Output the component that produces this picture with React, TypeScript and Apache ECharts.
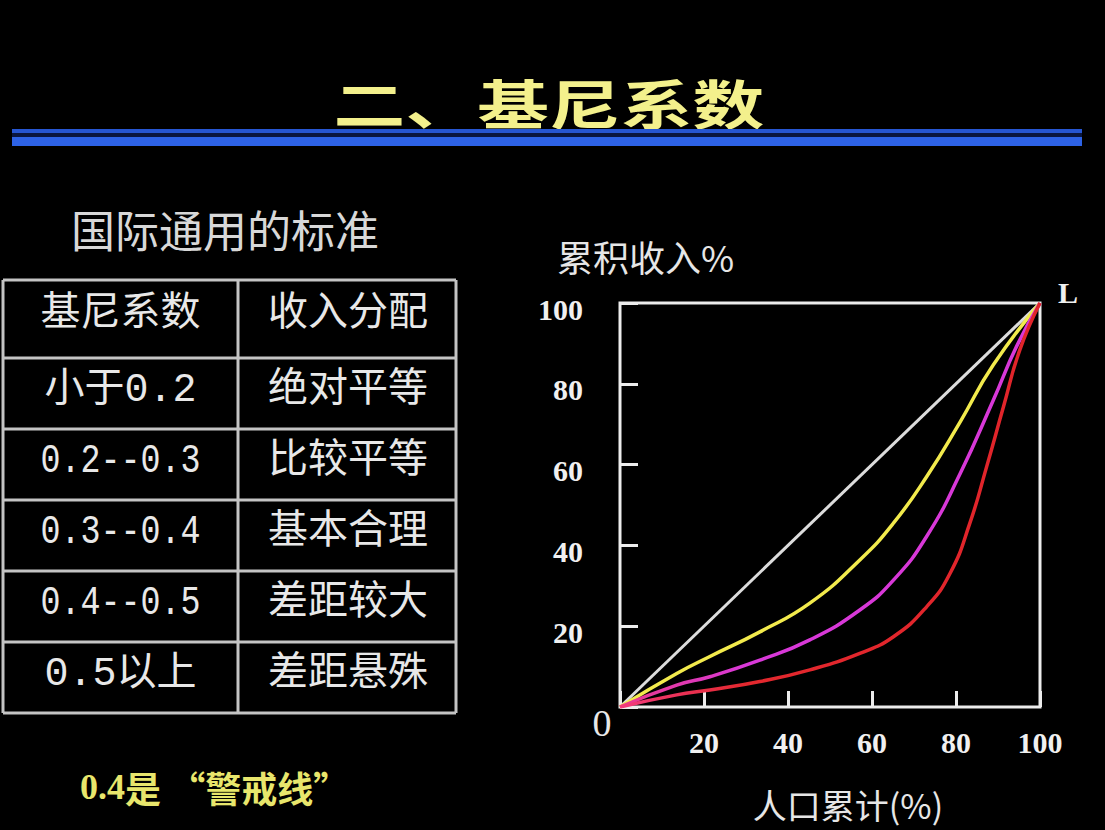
import React, { useEffect, useRef } from "react";
import * as echarts from "echarts";

// ---- data ----
const titleText = "二、基尼系数";
const subTitle = "国际通用的标准";
const noteLead = "0.4";
const noteRest = "是 “警戒线”";
const yAxisName = "累积收入%";
const xAxisName = "人口累计(%)";
const cornerLabel = "L";
const originLabel = "0";

const giniRanges = ["基尼系数", "小于0.2", "0.2--0.3", "0.3--0.4", "0.4--0.5", "0.5以上"];
const incomeDistribution = ["收入分配", "绝对平等", "比较平等", "基本合理", "差距较大", "差距悬殊"];

const axisTicks = [0, 20, 40, 60, 80, 100];

const equalityX = [0, 100];
const equalityY = [0, 100];

const yellowX = [0, 13.5, 21.4, 33.3, 45.2, 57.1, 65.1, 73, 81, 88.9, 100];
const yellowY = [0, 8.3, 12.5, 18.6, 25.7, 36.4, 45.5, 57, 70.6, 84.7, 100];

const magentaX = [0, 13.5, 21.4, 33.3, 45.2, 57.1, 65.1, 73, 81, 88.9, 94.4, 100];
const magentaY = [0, 5.4, 7.5, 11.6, 16.6, 24, 31.4, 42.2, 57.8, 76, 89.2, 100];

const redX = [0, 13.5, 21.4, 33.3, 45.2, 57.1, 65.1, 73, 78.6, 83.3, 87.3, 91.3, 95.2, 100];
const redY = [0, 3, 4.2, 6.3, 9.2, 13.3, 17.4, 24.8, 33.1, 45.5, 59.5, 74.3, 88.4, 100];

const zip = (xs: number[], ys: number[]) => xs.map((x, i) => [x, ys[i]]);

export default function App() {
  const ref = useRef<HTMLDivElement>(null);

  useEffect(() => {
    document.body.style.margin = "0";
    document.body.style.background = "#000";
    if (!ref.current) return;
    const chart = echarts.init(ref.current, undefined, { renderer: "svg" });

    const W = 1105;
    const H = 830;
    const gridLeft = 620;
    const gridRight = 1040;
    const gridTop = 303;
    const gridBottom = 707;

    // table layout
    const tLeft = 3;
    const tMid = 238;
    const tRight = 456;
    const rowY = [280, 358, 429, 500, 571, 642, 713];
    const lineColor = "#c4c4c4";
    const tableText = "#e8e8e8";
    const cellFontSize = 40;
    const tableFont = `${cellFontSize}px "Liberation Mono", "Noto Sans CJK SC", monospace`;
    const maxCellWidth = 160;
    const cellScale = (s: string) => {
      let w = 0;
      for (const ch of s) w += ch.charCodeAt(0) < 128 ? cellFontSize * 0.6 : cellFontSize;
      return Math.min(1, maxCellWidth / w);
    };

    const graphic: any[] = [];

    // title
    graphic.push({
      type: "text",
      x: 549,
      y: 101,
      scaleX: 1.33,
      style: {
        text: titleText,
        fill: "#f3f08c",
        font: 'bold 54px "Noto Sans CJK SC"',
        textAlign: "center",
        textVerticalAlign: "middle",
        shadowColor: "rgba(240,240,120,0.45)",
        shadowBlur: 6,
      },
    });
    // blue bars
    graphic.push({ type: "rect", shape: { x: 12, y: 129, width: 1070, height: 4 }, style: { fill: "#2656d2" } });
    graphic.push({ type: "rect", shape: { x: 12, y: 133, width: 1070, height: 4 }, style: { fill: "#0a1640" } });
    graphic.push({ type: "rect", shape: { x: 12, y: 137, width: 1070, height: 9 }, style: { fill: "#2d62e6" } });

    // subtitle
    graphic.push({
      type: "text",
      x: 225,
      y: 229,
      style: {
        text: subTitle,
        fill: "#d8d8d8",
        font: '44px "Noto Sans CJK SC"',
        textAlign: "center",
        textVerticalAlign: "middle",
      },
    });

    // table lines
    rowY.forEach((y) => {
      graphic.push({
        type: "line",
        shape: { x1: tLeft, y1: y, x2: tRight, y2: y },
        style: { stroke: lineColor, lineWidth: 3 },
      });
    });
    [tLeft, tMid, tRight].forEach((x) => {
      graphic.push({
        type: "line",
        shape: { x1: x, y1: rowY[0], x2: x, y2: rowY[rowY.length - 1] },
        style: { stroke: lineColor, lineWidth: 3 },
      });
    });
    // table texts
    giniRanges.forEach((t, i) => {
      const cy = (rowY[i] + rowY[i + 1]) / 2 - (i === 0 ? 5 : 3);
      graphic.push({
        type: "text",
        x: (tLeft + tMid) / 2,
        y: cy,
        scaleX: cellScale(t),
        style: {
          text: t,
          fill: tableText,
          font: tableFont,
          textAlign: "center",
          textVerticalAlign: "middle",
        },
      });
      graphic.push({
        type: "text",
        x: (tMid + tRight) / 2 + 1,
        y: cy,
        scaleX: cellScale(incomeDistribution[i]),
        style: {
          text: incomeDistribution[i],
          fill: tableText,
          font: tableFont,
          textAlign: "center",
          textVerticalAlign: "middle",
        },
      });
    });

    // note
    graphic.push({
      type: "text",
      x: 80,
      y: 787,
      style: {
        text: `{a|${noteLead}}{b|${noteRest}}`,
        fill: "#e8e66c",
        textAlign: "left",
        textVerticalAlign: "middle",
        rich: {
          a: { fontFamily: '"Liberation Serif"', fontWeight: "bold", fontSize: 36, fill: "#e8e66c" },
          b: { fontFamily: '"Noto Sans CJK SC"', fontWeight: "bold", fontSize: 36, fill: "#e8e66c" },
        },
      },
    });

    // axis names and special labels
    graphic.push({
      type: "text",
      x: 557,
      y: 256,
      style: {
        text: yAxisName,
        fill: "#e6e6e6",
        font: '36px "Noto Sans CJK SC"',
        textAlign: "left",
        textVerticalAlign: "middle",
      },
    });
    graphic.push({
      type: "text",
      x: 848,
      y: 804,
      style: {
        text: xAxisName,
        fill: "#e6e6e6",
        font: '34px "Noto Sans CJK SC"',
        textAlign: "center",
        textVerticalAlign: "middle",
      },
    });
    graphic.push({
      type: "text",
      x: 1068,
      y: 292,
      style: {
        text: cornerLabel,
        fill: "#f0f0f0",
        font: 'bold 30px "Liberation Serif"',
        textAlign: "center",
        textVerticalAlign: "middle",
      },
    });
    graphic.push({
      type: "text",
      x: 602,
      y: 723,
      style: {
        text: originLabel,
        fill: "#e8e8e8",
        font: '38px "Liberation Serif"',
        textAlign: "center",
        textVerticalAlign: "middle",
      },
    });

    const axisLabelStyle = {
      color: "#f0f0f0",
      fontFamily: '"Liberation Serif", serif',
      fontWeight: "bold" as const,
      fontSize: 30,
    };

    const lineSeries = (name: string, data: number[][], color: any, width: number, smooth: boolean) => ({
      name,
      type: "line",
      data,
      smooth: smooth ? 0.5 : false,
      showSymbol: false,
      symbol: "none",
      lineStyle: { color, width },
      itemStyle: { color },
      z: 3,
    });

    const redGradient = new echarts.graphic.LinearGradient(0, 0, 1, 0, [
      { offset: 0, color: "#f23a7c" },
      { offset: 0.3, color: "#e3282e" },
      { offset: 1, color: "#e0242a" },
    ]);
    const magentaGradient = new echarts.graphic.LinearGradient(0, 0, 1, 0, [
      { offset: 0, color: "#ea3a8a" },
      { offset: 0.3, color: "#d838d8" },
      { offset: 1, color: "#d838d8" },
    ]);

    chart.setOption({
      animation: false,
      backgroundColor: "#000",
      grid: {
        left: gridLeft,
        right: W - gridRight,
        top: gridTop,
        bottom: H - gridBottom,
        show: true,
        borderColor: "#ececec",
        borderWidth: 3,
        backgroundColor: "transparent",
      },
      xAxis: {
        type: "value",
        min: axisTicks[0],
        max: axisTicks[axisTicks.length - 1],
        interval: axisTicks[1] - axisTicks[0],
        axisLine: { show: false },
        axisTick: { show: true, inside: true, length: 16, lineStyle: { color: "#ececec", width: 3 } },
        splitLine: { show: false },
        axisLabel: {
          ...axisLabelStyle,
          margin: 20,
          formatter: (v: number) => (v === 0 ? "" : String(v)),
        },
      },
      yAxis: {
        type: "value",
        min: axisTicks[0],
        max: axisTicks[axisTicks.length - 1],
        interval: axisTicks[1] - axisTicks[0],
        axisLine: { show: false },
        axisTick: { show: true, inside: true, length: 18, lineStyle: { color: "#ececec", width: 3 } },
        splitLine: { show: false },
        axisLabel: {
          ...axisLabelStyle,
          margin: 37,
          verticalAlign: "top",
          lineHeight: 12,
          formatter: (v: number) => (v === 0 ? "" : String(v)),
        },
      },
      series: [
        lineSeries("绝对平均线", zip(equalityX, equalityY), "#dcdcdc", 3, false),
        lineSeries("洛伦兹曲线1", zip(yellowX, yellowY), "#f2ea4c", 3.5, true),
        lineSeries("洛伦兹曲线2", zip(magentaX, magentaY), magentaGradient, 3.5, true),
        lineSeries("洛伦兹曲线3", zip(redX, redY), redGradient, 3.5, true),
      ],
      graphic,
    });

    return () => chart.dispose();
  }, []);

  return <div ref={ref} style={{ width: 1105, height: 830, background: "#000" }} />;
}
